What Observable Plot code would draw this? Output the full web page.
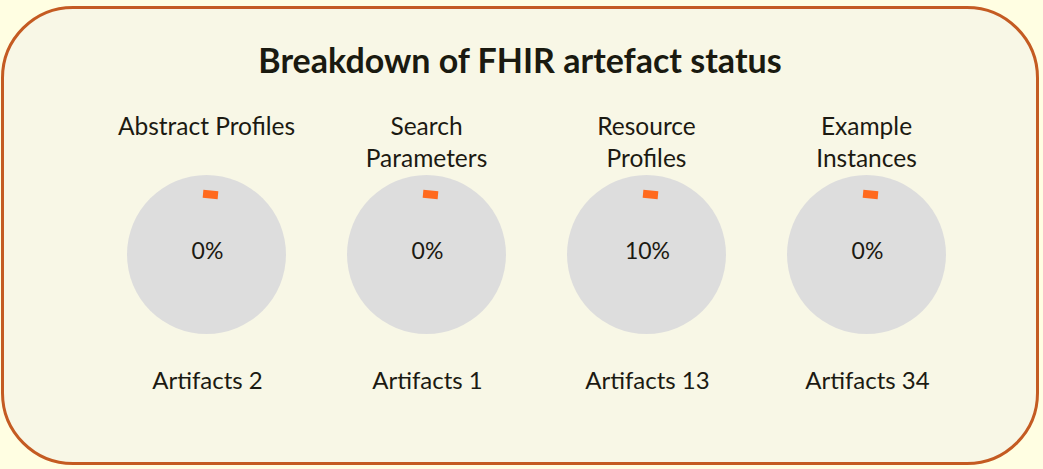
<!DOCTYPE html>
<html>
<head>
<meta charset="utf-8">
<script src="https://cdn.jsdelivr.net/npm/d3@7"></script>
<script src="https://cdn.jsdelivr.net/npm/@observablehq/plot@0.6"></script>
<style>
  html, body { margin: 0; padding: 0; background: #fffee2; }
  #wrap { position: relative; width: 1043px; height: 469px; overflow: hidden; background: #fffee2; font-family: Lato, "Open Sans", sans-serif; }
  #box { position: absolute; left: 1px; top: 6px; width: 1032px; height: 453px; border: 3px solid #c45b22; border-radius: 72px; background: #f8f7e6; }
  #title { position: absolute; top: 39px; left: 0; width: 1040px; text-align: center; font-weight: 700; font-size: 34px; color: #1a1a10; }
  #chart { position: absolute; left: 0; top: 95px; }
</style>
</head>
<body>
<div id="wrap">
  <div id="box"></div>
  <div id="title">Breakdown of FHIR artefact status</div>
  <div id="chart"></div>
</div>
<script>
const categories = ["Abstract Profiles", "Search Parameters", "Resource Profiles", "Example Instances"];
const labelLines = ["Abstract Profiles", "Search\nParameters", "Resource\nProfiles", "Example\nInstances"];
const percentComplete = [0, 0, 10, 0];
const artifactCounts = [2, 1, 13, 34];

const rows = categories.map((c, i) => ({
  category: c,
  label: labelLines[i],
  pct: percentComplete[i],
  count: artifactCounts[i]
}));

const tickSymbol = {
  draw(ctx) { ctx.rect(-7.5, -4, 15, 8); }
};

const textColor = "#1c1a12";

const plot = Plot.plot({
  width: 1043,
  height: 374,
  marginTop: 0,
  marginBottom: 0,
  marginLeft: 205,
  marginRight: 177,
  style: { background: "transparent", fontFamily: "Lato, 'Open Sans', sans-serif" },
  x: { type: "point", domain: categories, padding: 0, axis: null },
  marks: [
    Plot.text(rows, {
      x: "category", text: "label", frameAnchor: "top", dy: 17, dx: 0,
      lineAnchor: "top", fontSize: 24.5, lineHeight: 1.3, fill: textColor
    }),
    Plot.dot(rows, {
      x: "category", frameAnchor: "top", dy: 159, r: 79.5,
      fill: "#dddddd", stroke: "none"
    }),
    Plot.dot(rows, {
      x: "category", frameAnchor: "top", dy: 99, dx: 4, symbol: tickSymbol,
      fill: "#ff6a1e", stroke: "none", rotate: 5
    }),
    Plot.text(rows, {
      x: "category", text: d => `${d.pct}%`, frameAnchor: "top", dy: 147, dx: 1,
      fontSize: 23, fill: textColor
    }),
    Plot.text(rows, {
      x: "category", text: d => `Artifacts ${d.count}`, frameAnchor: "top", dy: 276, dx: 1,
      fontSize: 24, fill: textColor
    })
  ]
});
document.getElementById("chart").appendChild(plot);
</script>
</body>
</html>
